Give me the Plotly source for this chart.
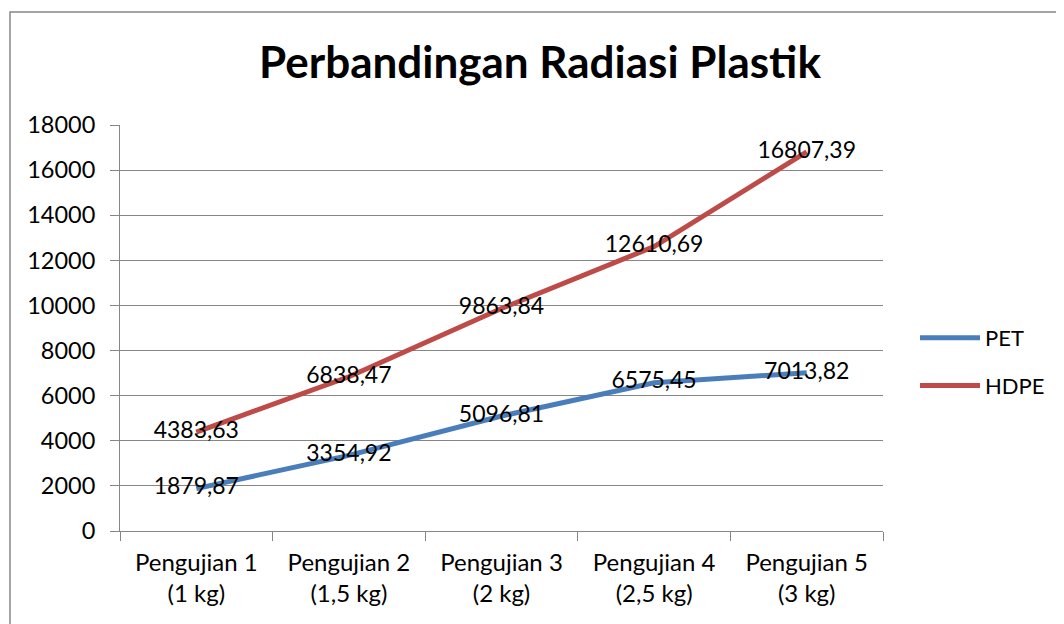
import plotly.graph_objects as go

categories = ["Pengujian 1<br>(1 kg)", "Pengujian 2<br>(1,5 kg)", "Pengujian 3<br>(2 kg)",
              "Pengujian 4<br>(2,5 kg)", "Pengujian 5<br>(3 kg)"]
pet = [1879.87, 3354.92, 5096.81, 6575.45, 7013.82]
hdpe = [4383.63, 6838.47, 9863.84, 12610.69, 16807.39]
pet_labels = ["1879,87", "3354,92", "5096,81", "6575,45", "7013,82"]
hdpe_labels = ["4383,63", "6838,47", "9863,84", "12610,69", "16807,39"]

FONT = "Lato"
L, R, T, B = 112, 189, 117, 101
PW = 1064 - L - R
PH = 624 - T - B

fig = go.Figure()
fig.add_trace(go.Scatter(x=categories, y=pet, name="PET", mode="lines+text", legendgroup="a",
                         text=pet_labels, textposition="middle center",
                         textfont=dict(size=23, color="black", family=FONT),
                         line=dict(color="#4A7EBB", width=5)))
fig.add_trace(go.Scatter(x=categories, y=hdpe, name="HDPE", mode="lines+text", legendgroup="b",
                         text=hdpe_labels, textposition="middle center",
                         textfont=dict(size=23, color="black", family=FONT),
                         line=dict(color="#BE4B48", width=5)))

fig.update_layout(
    width=1064, height=624,
    margin=dict(l=L, r=R, t=T, b=B, autoexpand=False),
    paper_bgcolor="white", plot_bgcolor="white",
    font=dict(family=FONT, size=22, color="black"),
    title=dict(text="<b>Perbandingan Radiasi Plastik</b>", x=532/1064, xanchor="center",
               y=1-55/624, yanchor="middle", font=dict(size=44, family=FONT, color="black")),
    showlegend=True,
    legend=dict(x=(907-L)/PW, y=(531-362)/PH, xanchor="left", yanchor="middle",
                font=dict(size=22, family=FONT), tracegroupgap=16, itemwidth=60,
                traceorder="grouped", bgcolor="rgba(0,0,0,0)"),
    xaxis=dict(type="category", range=[-0.5, 4.5], showgrid=False,
               showline=True, linecolor="#868686", linewidth=1,
               ticks="outside", tickson="boundaries", ticklen=9, tickcolor="#868686",
               ticklabelstandoff=10, tickfont=dict(size=24, family=FONT)),
    yaxis=dict(range=[0, 18000], dtick=2000, showgrid=True, gridcolor="#868686", gridwidth=1,
               showline=True, linecolor="#868686", linewidth=1, zeroline=False,
               ticks="outside", ticklen=9, tickcolor="#868686", ticklabelstandoff=10,
               tickfont=dict(size=23.5, family=FONT), tickformat="d"),
    shapes=[dict(type="rect", xref="paper", yref="paper",
                 x0=(2-L)/PW, x1=(1080-L)/PW, y0=-(B + 20)/PH, y1=1+(T-4)/PH,
                 line=dict(color="#868686", width=1.5), fillcolor="rgba(0,0,0,0)", layer="below")],
)
fig.write_html("out.html")
